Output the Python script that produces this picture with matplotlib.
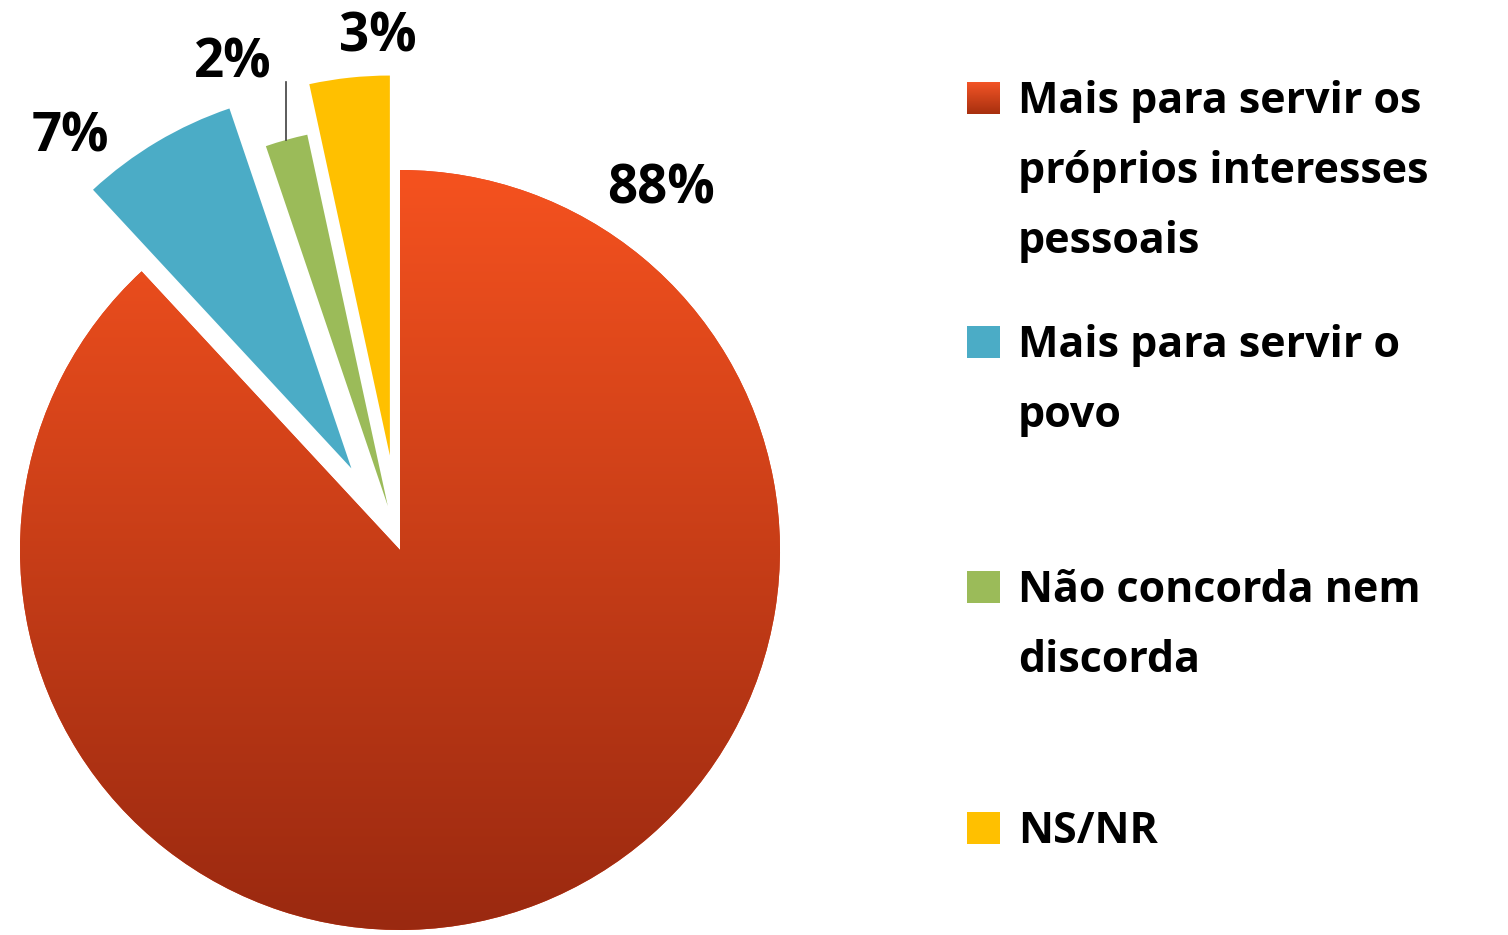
import numpy as np
import matplotlib
matplotlib.use('Agg')
import matplotlib.pyplot as plt
from matplotlib.patches import Rectangle

plt.rcParams['font.family'] = ['Open Sans', 'DejaVu Sans']

# data
categories = ['Mais para servir os próprios interesses pessoais',
              'Mais para servir o povo',
              'Não concorda nem discorda',
              'NS/NR']
legend_lines = ['Mais para servir os\npróprios interesses\npessoais',
                'Mais para servir o\npovo',
                'Não concorda nem\ndiscorda',
                'NS/NR']
values = [88.1, 6.7, 1.8, 3.4]
pct_labels = ['88%', '7%', '2%', '3%']
colors = ['#E0461E', '#4BACC6', '#9BBB59', '#FFC000']
explode_frac = [0, 0.25, 0.12, 0.25]

W, H = 1508, 935
fig = plt.figure(figsize=(W / 100, H / 100), dpi=100)
ax = fig.add_axes([0, 0, 1, 1])

# work in pixel units, y going up
cx, cy, R = 400, H - 550, 380
wedges, _ = ax.pie(values, colors=colors, explode=[e * R for e in explode_frac],
                   startangle=90, counterclock=False, center=(cx, cy),
                   radius=R, frame=True)

# vertical gradient on the big slice
def vgrad(top, bot, n=256):
    t = np.linspace(0, 1, n)[:, None, None]
    top = np.array(matplotlib.colors.to_rgb(top))
    bot = np.array(matplotlib.colors.to_rgb(bot))
    return top + (bot - top) * t

im = ax.imshow(vgrad('#F5521F', '#9A2910'), extent=[cx - R, cx + R, cy - R, cy + R],
               origin='upper', aspect='auto', zorder=wedges[0].get_zorder() + 0.1)
im.set_clip_path(wedges[0])

# percentage labels (positions as in the reference)
label_pos = [(661, 189), (70, 137), (233, 64), (378, 38)]
for txt, (px, py) in zip(pct_labels, label_pos):
    ax.text(px, H - py, txt, ha='center', va='center', fontsize=38,
            fontweight='bold', color='black')

# leader line for the small green slice
g = wedges[2]
tm = np.deg2rad((g.theta1 + g.theta2) / 2)
gx = g.center[0] + g.r * np.cos(tm)
gy = g.center[1] + g.r * np.sin(tm)
ax.plot([gx, gx], [gy, H - 82], color='#404040', lw=1.2)

# legend drawn by hand
baselines = [113, 357, 602, 843]
line_gap = 70
for i, (lab, b) in enumerate(zip(legend_lines, baselines)):
    y0 = H - (b + 1)
    if i == 0:
        ax.imshow(vgrad('#F25426', '#A8300F', 32), extent=[967, 1000, y0, y0 + 32],
                  origin='upper', aspect='auto', zorder=3)
    else:
        ax.add_patch(Rectangle((967, y0), 33, 32, facecolor=colors[i], edgecolor='none'))
    for j, line in enumerate(lab.split('\n')):
        ax.text(1018, H - (b + j * line_gap), line, ha='left', va='baseline',
                fontsize=31, fontweight='bold', color='black')

ax.set_xlim(0, W)
ax.set_ylim(0, H)
ax.set_aspect('auto')
ax.axis('off')

fig.savefig('out.png', dpi=100, facecolor='white')
